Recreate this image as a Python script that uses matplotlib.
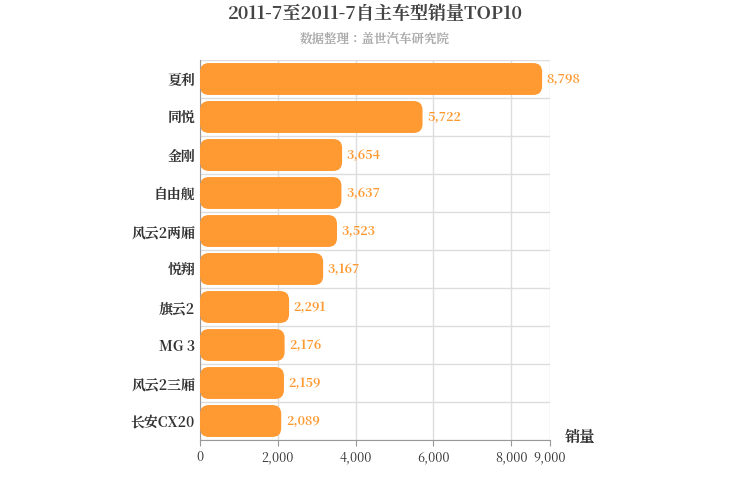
import matplotlib
matplotlib.use("Agg")
import matplotlib.pyplot as plt
from matplotlib import font_manager as fm
from matplotlib.patches import FancyBboxPatch

cjk = None
for f in fm.findSystemFonts():
    if "CJK" in f and ("Bold" in f or cjk is None):
        fm.fontManager.addfont(f)
        cjk = fm.FontProperties(fname=f).get_name()
names = [cjk] if cjk else []
plt.rcParams["font.family"] = "sans-serif"
plt.rcParams["font.sans-serif"] = names + ["Noto Sans CJK SC", "Noto Sans CJK JP", "DejaVu Sans"]

categories = ["夏利", "同悦", "金刚", "自由舰", "风云2两厢", "悦翔", "旗云2", "MG 3", "风云2三厢", "长安CX20"]
values = [8798, 5722, 3654, 3637, 3523, 3167, 2291, 2176, 2159, 2089]
xticks = [0, 2000, 4000, 6000, 8000, 9000]

fig = plt.figure(figsize=(7.5, 5), dpi=100)
ax = fig.add_axes([200/750, 60/500, 350/750, 380/500])
n = len(categories)
ax.set_xlim(0, 9000)
ax.set_ylim(n, 0)
color = "#FF9A33"
xpp = 9000/350
ypp = n/380
for i, v in enumerate(values):
    h = 0.84
    p = FancyBboxPatch((0, i + 0.5 - h/2), v, h,
                       boxstyle="round,pad=0,rounding_size=230",
                       mutation_aspect=ypp/xpp, fc=color, ec="none", zorder=3)
    ax.add_patch(p)
    ax.text(v + 120, i + 0.5, f"{v:,}", va="center", ha="left", color=color,
            fontsize=9, fontweight="bold", zorder=4)

ax.set_yticks([i + 0.5 for i in range(n)])
ax.set_yticklabels(categories, fontsize=10, fontweight="bold", color="#333333")
ax.set_yticks(range(n + 1), minor=True)
ax.set_xticks(xticks)
ax.set_xticklabels([f"{t:,}" for t in xticks], fontsize=9, color="#333333")
ax.grid(True, axis="x", color="#DDDDDD", lw=1, zorder=0)
ax.grid(True, axis="y", which="minor", color="#DDDDDD", lw=1, zorder=0)
ax.tick_params(axis="y", which="both", length=0)
ax.tick_params(axis="x", length=4, color="#999999")
for s in ["top", "right"]:
    ax.spines[s].set_visible(False)
ax.spines["left"].set_color("#999999")
ax.spines["bottom"].set_color("#999999")

fig.text(0.5, 0.972, "2011-7至2011-7自主车型销量TOP10", ha="center", va="center",
         fontsize=13, fontweight="bold", color="#444444")
fig.text(0.5, 0.922, "数据整理：盖世汽车研究院", ha="center", va="center",
         fontsize=9, fontweight="bold", color="#AAAAAA")
fig.text(580/750, 1 - 437/500, "销量", ha="center", va="center",
         fontsize=11, fontweight="bold", color="#333333")
fig.savefig("out.png", dpi=100)
